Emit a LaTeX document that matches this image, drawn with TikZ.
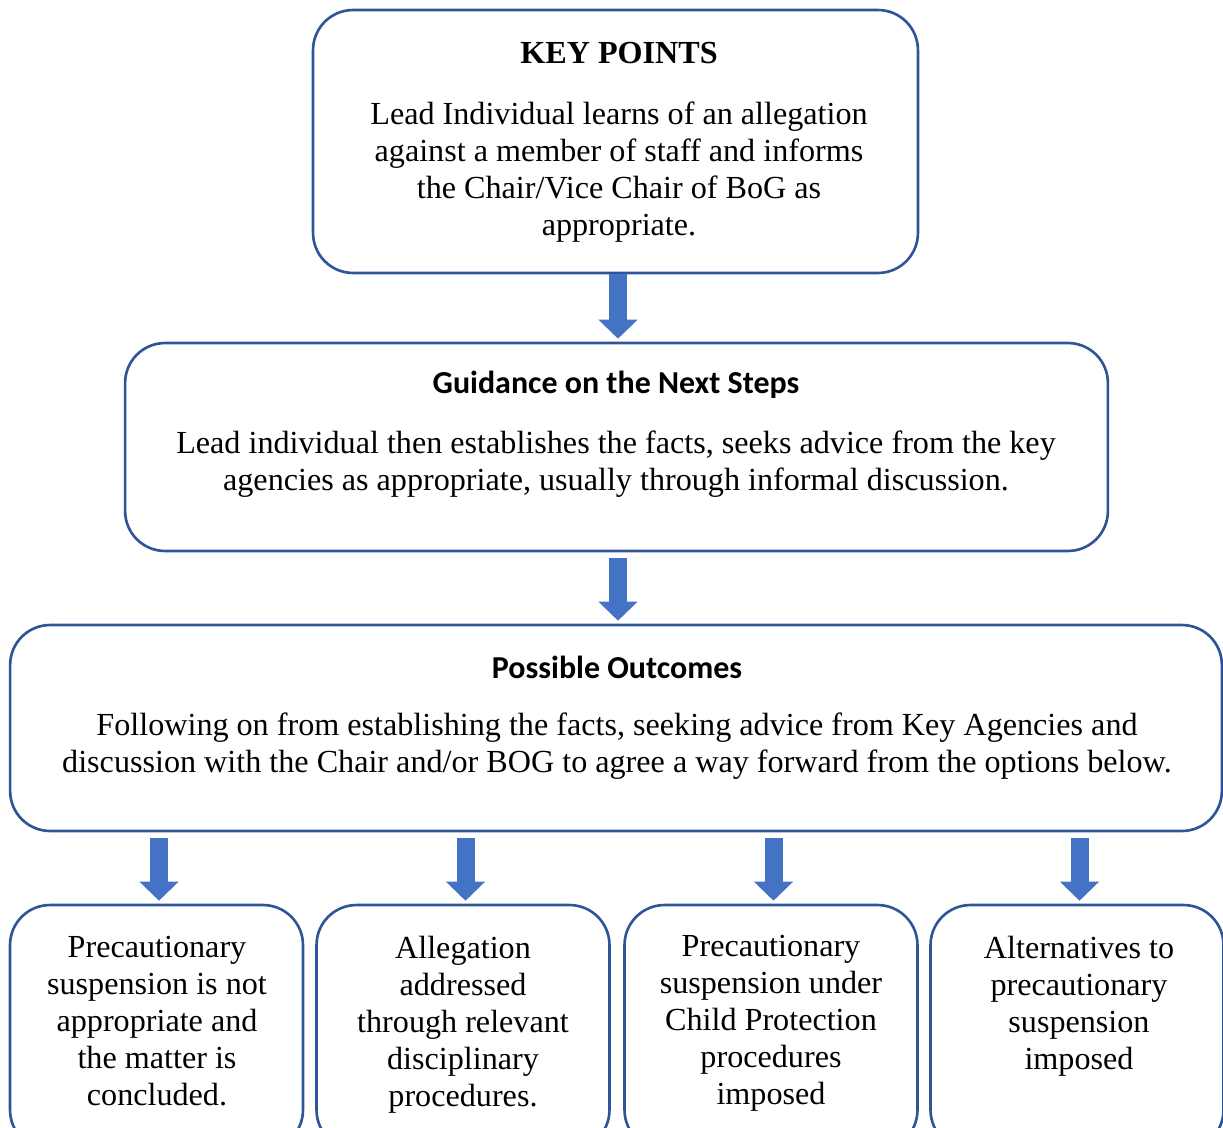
\documentclass[tikz,border=0pt]{standalone}
\usepackage{fontspec}
\setmainfont{Liberation Serif}
\newfontfamily\headfont{Carlito}
\usetikzlibrary{arrows.meta,positioning}
\definecolor{boxblue}{HTML}{2F5597}
\definecolor{arrowblue}{HTML}{4472C4}

\begin{document}
\begin{tikzpicture}[x=0.02cm, y=-0.02cm,
    stage/.style={rectangle, draw=boxblue, line width=1.5pt, rounded corners=0.8cm},
    outcome/.style={stage, minimum width=5.86cm, minimum height=4.9cm},
    body/.style={align=center, font=\fontsize{18.3}{21}\selectfont},
    heading/.style={font=\headfont\bfseries\fontsize{18.2}{21}\selectfont},
    flow/.style={-{Triangle[length=0.38cm, width=0.76cm]}, line width=0.36cm,
                 draw=arrowblue, shorten <=0.12cm, shorten >=0.06cm}
]
\clip (0,0) rectangle (1223,1128);

% Stages
\node[stage, minimum width=12.1cm, minimum height=5.26cm] (points) at (615.5,141.5) {};
\node[stage, minimum width=19.66cm, minimum height=4.16cm] (guide) at (616.5,447) {};
\node[stage, minimum width=24.24cm, minimum height=4.12cm] (outcomes) at (616,728) {};

% Outcomes
\node[outcome] (notsusp) at (156.5,1027.5) {};
\node[outcome] (discip) at (463,1027.5) {};
\node[outcome] (protect) at (771,1027.5) {};
\node[outcome] (altern) at (1077,1027.5) {};

% Texts
\node[body, font=\bfseries\fontsize{18.3}{21}\selectfont] (pointshead) at (619,53) {KEY POINTS};
\node[body] (pointstext) at (619,172) {Lead Individual learns of an allegation\\
  against a member of staff and informs\\ the Chair/Vice Chair of BoG as\\ appropriate.};
\node[heading] (guidehead) at (616,385) {Guidance on the Next Steps};
\node[body] (guidetext) at (616,464.5) {Lead individual then establishes the facts, seeks advice from the key\\
  agencies as appropriate, usually through informal discussion.};
\node[heading] (outhead) at (617,667) {Possible Outcomes};
\node[body] (outtext) at (617,746) {Following on from establishing the facts, seeking advice from Key Agencies and\\
  discussion with the Chair and/or BOG to agree a way forward from the options below.};
\node[body] (notsusptext) at (157,1021) {Precautionary\\ suspension is not\\ appropriate and\\ the matter is\\ concluded.};
\node[body] (disciptext) at (463,1025) {Allegation\\ addressed\\ through relevant\\ disciplinary\\ procedures.};
\node[body] (protecttext) at (771,1023) {Precautionary\\ suspension under\\ Child Protection\\ procedures\\ imposed};
\node[body] (alterntext) at (1079,1006) {Alternatives to\\ precautionary\\ suspension\\ imposed};

% Arrows
\draw[flow, shorten <=0pt] ([xshift=0.05cm]points.south) -- ([xshift=0.05cm]points.south |- guide.north);
\draw[flow] ([xshift=0.03cm]guide.south) -- ([xshift=0.03cm]guide.south |- outcomes.north);
\foreach \o in {notsusp,discip,protect,altern}
  \draw[flow] ([xshift=0.05cm]\o.north |- outcomes.south) -- ([xshift=0.05cm]\o.north);

\end{tikzpicture}
\end{document}
